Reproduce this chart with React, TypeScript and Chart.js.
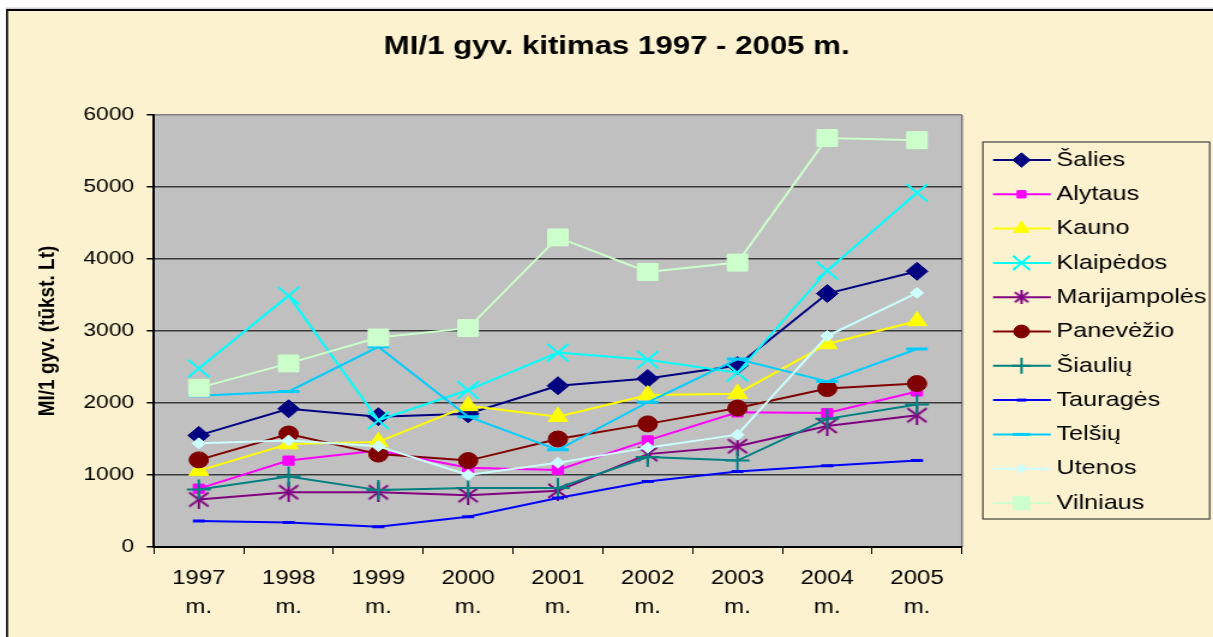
import React, { useEffect, useRef } from 'react';
import { Chart, registerables } from 'chart.js';
import { drawPoint } from 'chart.js/helpers';

Chart.register(...registerables);

// ---------- data ----------
const years = ['1997', '1998', '1999', '2000', '2001', '2002', '2003', '2004', '2005'];
const yearSuffix = 'm.';
const yMin = 0;
const yMax = 6000;
const yStep = 1000;

const seriesNames = [
  'Šalies', 'Alytaus', 'Kauno', 'Klaipėdos', 'Marijampolės', 'Panevėžio',
  'Šiaulių', 'Tauragės', 'Telšių', 'Utenos', 'Vilniaus',
];

const salies = [1550, 1920, 1810, 1850, 2240, 2340, 2520, 3520, 3830];
const alytaus = [810, 1200, 1340, 1100, 1070, 1480, 1870, 1860, 2160];
const kauno = [1060, 1430, 1460, 1960, 1810, 2110, 2130, 2820, 3140];
const klaipedos = [2480, 3490, 1760, 2180, 2700, 2600, 2420, 3840, 4920];
const marijampoles = [660, 760, 760, 720, 780, 1290, 1400, 1680, 1830];
const panevezio = [1210, 1570, 1290, 1200, 1500, 1710, 1930, 2200, 2270];
const siauliu = [800, 980, 790, 820, 820, 1250, 1200, 1780, 1980];
const taurages = [360, 340, 280, 420, 680, 910, 1050, 1130, 1200];
const telsiu = [2100, 2160, 2780, 1810, 1350, 2010, 2610, 2300, 2750];
const utenos = [1440, 1480, 1400, 1000, 1170, 1380, 1560, 2930, 3530];
const vilniaus = [2210, 2550, 2910, 3040, 4300, 3820, 3950, 5680, 5650];

const seriesValues = [
  salies, alytaus, kauno, klaipedos, marijampoles, panevezio,
  siauliu, taurages, telsiu, utenos, vilniaus,
];

const titleText = 'MI/1 gyv. kitimas 1997 - 2005 m.';
const yTitleText = 'MI/1 gyv. (tūkst. Lt)';

// ---------- styles ----------
const W = 1011; // internal canvas width (stretched horizontally to 1213)
const H = 637;
const SX = 1213 / W;
const FONT = '"Liberation Sans", Arial, sans-serif';
const CREAM = '#FDF2D0';

const colors = [
  '#000080', '#FF00FF', '#FFFF00', '#00FFFF', '#800080', '#800000',
  '#008080', '#0000FF', '#00CCFF', '#CCFFFF', '#CCFFCC',
];

function makeStar(size: number, color: string): HTMLCanvasElement {
  const c = document.createElement('canvas');
  c.width = size;
  c.height = size;
  const g = c.getContext('2d')!;
  g.strokeStyle = color;
  g.lineWidth = 2;
  g.beginPath();
  const m = size * 0.1;
  g.moveTo(m, m * 1.5);
  g.lineTo(size - m, size - m * 1.5);
  g.moveTo(size - m, m * 1.5);
  g.lineTo(m, size - m * 1.5);
  g.moveTo(size / 2, 0);
  g.lineTo(size / 2, size);
  g.stroke();
  return c;
}

export default function App() {
  const ref = useRef<HTMLCanvasElement>(null);

  useEffect(() => {
    const canvas = ref.current;
    if (!canvas) return;

    const starBig = makeStar(20, colors[4]);
    const starSmall = makeStar(14, colors[4]);

    const markers: any[] = [
      { style: 'rectRot', r: 9, bw: 1 },
      { style: 'rect', r: 6.5, bw: 1 },
      { style: 'triangle', r: 9.5, bw: 1 },
      { style: 'crossRot', r: 12.5, bw: 2 },
      { style: starBig, legendStyle: starSmall, r: 10, bw: 2 },
      { style: 'circle', r: 8, bw: 1 },
      { style: 'cross', r: 10, bw: 2 },
      { style: 'line', r: 5, bw: 3 },
      { style: 'line', r: 9, bw: 3 },
      { style: 'rectRot', r: 5.5, bw: 1 },
      { style: 'rect', r: 12, bw: 1 },
    ];

    const datasets = seriesNames.map((name, i) => ({
      label: name,
      data: seriesValues[i],
      borderColor: colors[i],
      backgroundColor: colors[i],
      pointBackgroundColor: colors[i],
      pointBorderColor: colors[i],
      borderWidth: 2,
      pointStyle: markers[i].style,
      pointRadius: markers[i].r,
      pointBorderWidth: markers[i].bw,
      pointHoverRadius: markers[i].r,
      tension: 0,
      fill: false,
      order: seriesNames.length - i,
    }));

    const LEG = {
      x: 819.2, y: 142, w: 189, h: 377,
      firstY: 160, step: 34.3,
      lineX0: 827.7, lineX1: 875.8, markX: 851.4, textX: 880.6,
    };

    const bgPlugin = {
      id: 'bg',
      beforeDraw(chart: any) {
        const ctx = chart.ctx;
        const ca = chart.chartArea;
        ctx.save();
        ctx.fillStyle = '#ffffff';
        ctx.fillRect(0, 0, W, H);
        ctx.fillStyle = '#cfcfcf';
        ctx.fillRect(5, 7.5, W, 1.5);
        ctx.fillStyle = CREAM;
        ctx.fillRect(6.7, 11, W, H);
        ctx.fillStyle = '#000000';
        ctx.fillRect(5, 9, 1.7, H);
        ctx.fillRect(5, 9, W, 2);
        ctx.fillStyle = '#C0C0C0';
        ctx.fillRect(ca.left, ca.top, ca.right - ca.left, ca.bottom - ca.top);
        ctx.fillStyle = '#808080';
        ctx.fillRect(ca.right - 0.8, ca.top, 1.7, ca.bottom - ca.top);
        ctx.restore();
      },
      afterDraw(chart: any) {
        const ctx = chart.ctx;
        ctx.save();
        // title
        ctx.fillStyle = '#000';
        ctx.font = `bold 26px ${FONT}`;
        ctx.textAlign = 'center';
        ctx.textBaseline = 'middle';
        ctx.fillText(titleText, 514, 47);
        // legend
        ctx.strokeStyle = '#404040';
        ctx.lineWidth = 1.2;
        ctx.strokeRect(LEG.x, LEG.y, LEG.w, LEG.h);
        chart.data.datasets.forEach((ds: any, i: number) => {
          const y = LEG.firstY + i * LEG.step;
          ctx.strokeStyle = ds.borderColor;
          ctx.lineWidth = 2;
          ctx.beginPath();
          ctx.moveTo(LEG.lineX0, y);
          ctx.lineTo(LEG.lineX1, y);
          ctx.stroke();
          const mk = markers[i];
          ctx.fillStyle = ds.pointBackgroundColor;
          ctx.strokeStyle = ds.pointBorderColor;
          ctx.lineWidth = mk.bw;
          drawPoint(ctx, {
            pointStyle: mk.legendStyle || mk.style,
            radius: mk.r * 0.8,
            borderWidth: mk.bw,
            rotation: 0,
          } as any, LEG.markX, y);
          ctx.fillStyle = '#000';
          ctx.font = `21px ${FONT}`;
          ctx.textAlign = 'left';
          ctx.textBaseline = 'middle';
          ctx.fillText(ds.label, LEG.textX, y);
        });
        ctx.restore();
      },
    };

    const chart = new Chart(canvas, {
      type: 'line',
      data: {
        labels: years.map((y) => [y, yearSuffix]),
        datasets: datasets as any,
      },
      options: {
        responsive: false,
        animation: false,
        devicePixelRatio: 1,
        events: [],
        layout: { padding: { top: 115, right: W - 801.7, bottom: 0, left: 0 } },
        plugins: {
          legend: { display: false },
          title: { display: false },
          tooltip: { enabled: false },
        },
        scales: {
          x: {
            type: 'category',
            offset: true,
            grid: {
              display: true,
              offset: true,
              drawOnChartArea: false,
              drawTicks: true,
              tickLength: 7,
              color: '#000',
              tickColor: '#000',
              lineWidth: 1,
            },
            border: { display: true, color: '#000', width: 2 },
            ticks: {
              color: '#000',
              font: { family: FONT, size: 20, lineHeight: 1.45 },
              padding: 9.5,
              maxRotation: 0,
              minRotation: 0,
              autoSkip: false,
            },
            afterFit: (s: any) => { s.height = 90; },
          },
          y: {
            min: yMin,
            max: yMax,
            ticks: {
              stepSize: yStep,
              color: '#000',
              font: { family: FONT, size: 19 },
              padding: 10.5,
              callback: (v: any) => String(v),
            },
            grid: {
              color: (c: any) => (c.tick && c.tick.value === yMax ? '#808080' : '#3a3a3a'),
              tickColor: '#000',
              lineWidth: 1.5,
              drawTicks: true,
              tickLength: 6,
            },
            border: { display: true, color: '#000', width: 2 },
            title: {
              display: true,
              text: yTitleText,
              color: '#000',
              font: { family: FONT, size: 19, weight: 'bold', lineHeight: 1.2 },
              padding: { top: 28, bottom: 0 },
            },
            afterFit: (s: any) => { s.width = 128.3; },
          },
        },
      } as any,
      plugins: [bgPlugin],
    });

    return () => chart.destroy();
  }, []);

  return (
    <div
      style={{
        position: 'absolute',
        left: 0,
        top: 0,
        width: W,
        height: H,
        transform: `scaleX(${SX})`,
        transformOrigin: '0 0',
      }}
    >
      <canvas ref={ref} width={W} height={H} style={{ display: 'block' }} />
    </div>
  );
}
